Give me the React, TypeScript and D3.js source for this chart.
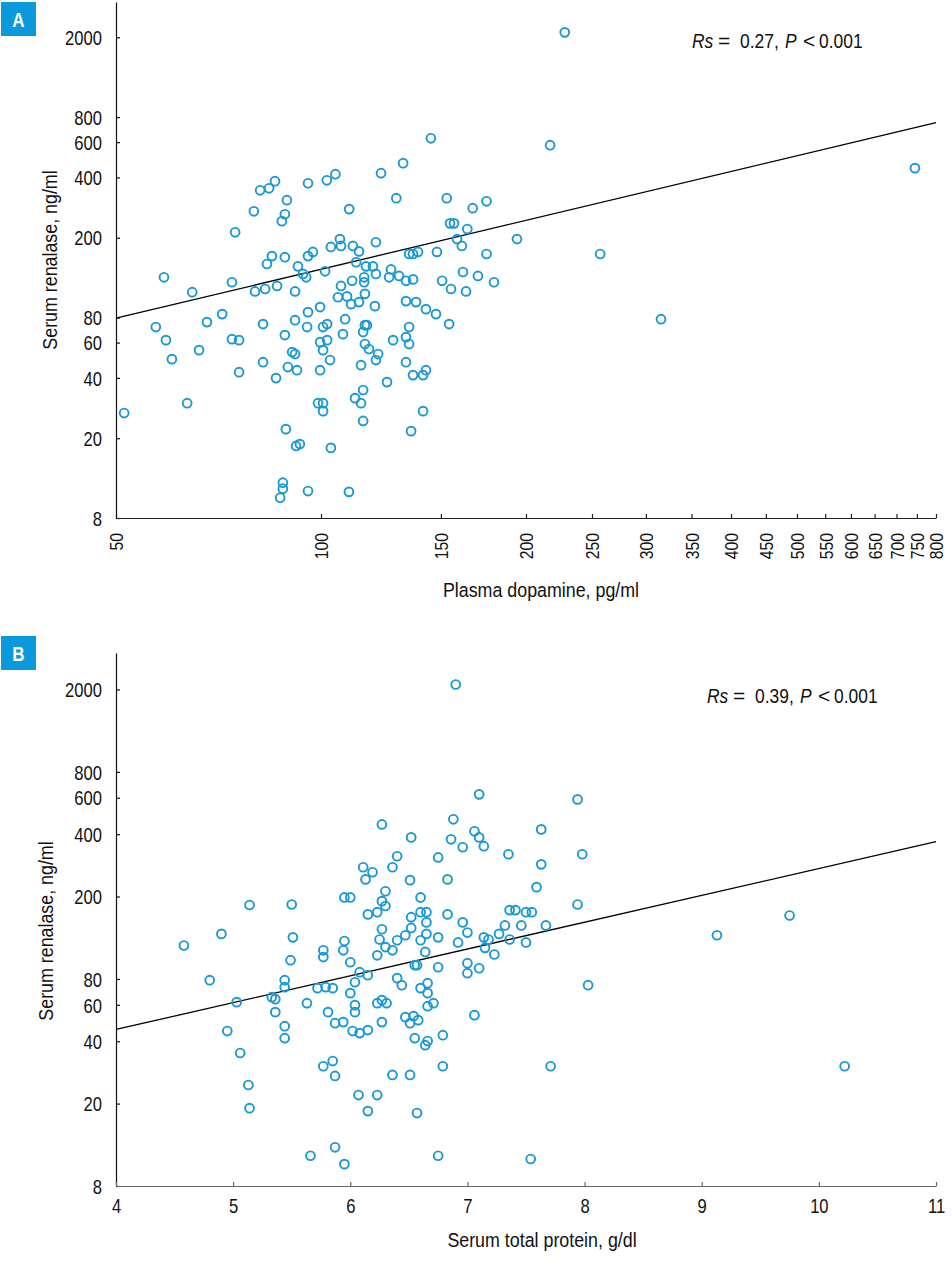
import * as d3 from "d3";
import { useEffect, useRef } from "react";

// Panel A: plasma dopamine (pg/ml) vs serum renalase (ng/ml)
const dopamine = [
  228, 145, 217, 132, 745, 122.5, 105, 102, 95.7, 85.6,
  83.9, 81.4, 129, 153, 89.1, 175, 167, 79.7, 110, 88.5,
  87.6, 154.7, 156.8, 164, 74.8, 158.4, 194, 106.6, 120.4, 161,
  107, 111.4, 113.7, 103.4, 134.7, 136.5, 138.8, 148, 175, 257,
  97.3, 95.7, 84.7, 88.5, 83.3, 92.5, 112.6, 116.4, 119.2, 126.7,
  101.4, 161.6, 170, 120.4, 94.1, 95.1, 115.7, 125.9, 130.2, 136.5,
  133.3, 150.6, 111.1, 115.7, 179.5, 58.8, 74, 107, 86.2, 155.2,
  163.3, 64.7, 80, 82.8, 91.6, 116, 109.2, 105.9, 133.3, 137.9,
  113.7, 110.7, 120, 99.7, 95.7, 142.6, 147.5, 71.6, 315.7, 108.5,
  91.6, 68, 82.2, 102.1, 100.7, 95.4, 116, 116.8, 115.3, 134.7,
  154.2, 57.2, 88.5, 107.7, 133.3, 74, 75.8, 59.2, 99.7, 102.1,
  116, 127.6, 134.7, 117.6, 100.7, 66.2, 90.7, 91.6, 121.3, 60.4,
  82.2, 133.3, 120.4, 103.1, 114.5, 89.4, 92.2, 75.8, 99.7, 142.6,
  141.2, 136.5, 85.9, 125, 115.3, 112.2, 99, 100.7, 100.7, 114.5,
  63.6, 51.4, 141.2, 115.3, 88.8, 135.6, 91.9, 93.1, 103.4, 87.9,
  87.9, 87.1, 95.7, 109.9,
];
const renalaseA = [
  2117, 627, 579, 471, 445, 420, 415, 387, 374, 383,
  353, 345, 315, 315, 308, 304, 281, 271, 278, 262,
  242, 236, 236, 221, 213, 197, 197, 197, 190, 182,
  182, 182, 171, 180, 166, 166, 170, 170, 166, 166,
  170, 162, 162, 160, 148, 144, 151, 144, 144, 139,
  136, 135, 129, 132, 132, 127, 127, 127, 129, 124,
  122, 122, 122, 120, 120, 127, 120, 115, 115, 111,
  108, 107, 108, 111, 108, 105, 102, 101, 96.6, 95.5,
  95.5, 93.3, 91.2, 90.2, 85.1, 88.1, 83.2, 83.2, 78.5, 78.5,
  77.6, 75.9, 74.2, 74.2, 71.7, 71.7, 73.3, 73.3, 67.7, 71.7,
  74.2, 71.7, 65.4, 66.1, 63.9, 62.4, 61.7, 61.7, 60.3, 61.7,
  59, 61.7, 59, 55.7, 55, 55, 53.8, 52.6, 52.6, 49.6,
  47.9, 47.9, 49.1, 49.1, 46.3, 45.3, 43.7, 42.7, 43.7, 43.7,
  41.3, 41.3, 39.9, 38.1, 34.8, 31.7, 29.9, 29.9, 27.3, 29.9,
  29.9, 26.7, 27.3, 24.4, 22.2, 21.7, 18.3, 18.7, 17.9, 12,
  11.2, 10.1, 10.9, 10.8,
];

// Panel B: serum total protein (g/dl) vs serum renalase (ng/ml)
const protein = [
  6.9, 7.1, 7.94, 6.27, 6.88, 7.06, 7.1, 7.14, 7.63, 6.52,
  6.86, 6.96, 6.4, 6.75, 7.35, 7.98, 7.63, 6.11, 6.19, 6.13,
  6.36, 6.83, 6.51, 7.59, 6.3, 6.27, 6.3, 5.95, 6, 6.6,
  7.94, 5.14, 5.5, 6.15, 6.23, 6.6, 6.65, 6.83, 7.36, 7.41,
  7.5, 7.55, 6.52, 6.65, 6.96, 7.32, 7.46, 7.67, 6.52, 6.27,
  7, 4.9, 5.51, 6.47, 6.65, 6.75, 6.25, 6.4, 6.6, 6.92,
  4.58, 5.77, 5.95, 5.94, 6.3, 6.36, 6.64, 6.23, 7.27, 7.18,
  7.14, 7.36, 7.5, 7.15, 7.23, 9.13, 9.75, 5.77, 5.49, 6,
  6.55, 6.57, 6.75, 7, 7, 7.1, 6.08, 6.15, 6.04, 4.8,
  5.44, 5.44, 6.4, 6.44, 5.72, 5.79, 5.85, 6, 6.6, 6.66,
  6.66, 6.66, 6.71, 8.03, 6.47, 6.54, 6.58, 6.51, 7.06, 6.55,
  6.64, 6.66, 6.79, 5.03, 5.33, 5.36, 5.36, 5.63, 6.04, 6.04,
  5.81, 6.23, 6.27, 6.31, 5.87, 5.94, 6.27, 6.02, 6.08, 6.15,
  4.95, 5.44, 5.44, 5.06, 5.77, 5.85, 5.87, 6.36, 6.51, 6.79,
  7.71, 10.22, 5.13, 6.07, 6.23, 5.14, 6.15, 6.57, 5.66, 5.87,
  5.95, 6.75, 7.54,
];
const renalaseB = [
  2113, 623, 589, 446, 472, 413, 386, 350, 422, 386,
  378, 346, 313, 309, 320, 320, 286, 277, 262, 242,
  277, 242, 240, 222, 212, 190, 180, 198, 198, 198,
  183, 182, 183, 164, 168, 168, 168, 164, 172, 172,
  168, 168, 159, 150, 150, 145, 145, 145, 141, 139,
  134, 132, 127, 130, 132, 127, 124, 123, 123, 120,
  116, 110, 122, 110, 114, 110, 108, 104, 132, 124,
  127, 124, 120, 113, 105, 130, 162, 102, 98.5, 96.3,
  93.2, 93.2, 91.1, 95.3, 85.3, 90.1, 86.2, 83.4, 77.1, 78.9,
  78.9, 73, 80.7, 74.6, 72.2, 73, 72.2, 68.3, 72.2, 76.3,
  68.3, 59.1, 61.1, 74.6, 52.3, 52.9, 50.6, 48.9, 53.5, 41.4,
  38.3, 40.1, 42.8, 61.8, 65.3, 63.9, 55.3, 61.1, 59.8, 55.3,
  55.3, 61.1, 63.2, 61.1, 48.9, 49.5, 49.5, 44.8, 43.8, 45.3,
  44.8, 47.3, 41.4, 35.1, 30.3, 32.1, 27.2, 27.5, 27.5, 30.3,
  30.3, 30.3, 24.6, 22, 22, 19, 18.4, 18, 11.2, 12.3,
  10.2, 11.2, 10.8,
];

// fitted lines (end points, data units)
const fitA = [[50, 79.4], [800, 751]];
const fitB = [[4, 45.6], [11, 368]];

const renalaseTicks = [8, 20, 40, 60, 80, 200, 400, 600, 800, 2000];
const dopamineTicks = [50, 100, 150, 200, 250, 300, 350, 400, 450, 500, 550, 600, 650, 700, 750, 800];
const proteinTicks = [4, 5, 6, 7, 8, 9, 10, 11];

// no condensed face installed: squeeze Liberation Sans horizontally
const FONT = "'Liberation Sans', Arial, sans-serif";
const TICK_SQ = 0.83;
const TITLE_SQ = 0.87;
const BLUE = "#1a98d6";

type Panel = {
  letter: string;
  boxY: number;
  xs: number[];
  ys: number[];
  fit: number[][];
  x: any;
  y: any;
  xTicks: number[];
  rotateX: boolean;
  xAxisColor: string;
  xTitle: string;
  xTitlePos: [number, number];
  yTitlePos: [number, number];
  stat: string;
  statPos: [number, number];
};

function drawPanel(svg: d3.Selection<SVGSVGElement, unknown, null, undefined>, p: Panel) {
  const g = svg.append("g");
  const [x0] = p.x.range();
  const [y0] = p.y.range();

  // y axis
  const yAxis = g
    .append("g")
    .attr("transform", `translate(${x0},0)`)
    .call(d3.axisLeft(p.y).tickValues(renalaseTicks).tickSize(-4).tickSizeOuter(0).tickFormat(d3.format("d")));
  yAxis.attr("font-family", FONT).attr("font-size", 20);
  yAxis.selectAll("path, line").attr("stroke", "#111").attr("stroke-width", 1.2);
  yAxis
    .selectAll("text")
    .attr("fill", "#111")
    .attr("x", -14 / TICK_SQ)
    .attr("dy", "0.36em")
    .attr("transform", `scale(${TICK_SQ},1)`);

  // x axis
  const xAxis = g
    .append("g")
    .attr("transform", `translate(0,${y0})`)
    .call(d3.axisBottom(p.x).tickValues(p.xTicks).tickSize(-4).tickSizeOuter(0).tickFormat(d3.format("d")));
  xAxis.attr("font-family", FONT).attr("font-size", p.rotateX ? 19 : 20);
  xAxis.selectAll("path, line").attr("stroke", p.xAxisColor).attr("stroke-width", 1.2);
  if (p.rotateX) {
    xAxis
      .selectAll("text")
      .attr("fill", "#111")
      .attr("transform", `rotate(-90) scale(${TICK_SQ},1)`)
      .attr("x", -15 / TICK_SQ)
      .attr("y", 0)
      .attr("dy", "0.36em")
      .style("text-anchor", "end");
  } else {
    xAxis
      .selectAll("text")
      .attr("fill", "#111")
      .attr("y", 13)
      .attr("dy", "0.71em")
      .attr("transform", `scale(${TICK_SQ},1)`);
  }

  // titles
  g.append("text")
    .attr("transform", `translate(${p.xTitlePos[0]},${p.xTitlePos[1]}) scale(${TITLE_SQ},1)`)
    .attr("text-anchor", "middle")
    .attr("font-family", FONT)
    .attr("font-size", 20.5)
    .attr("fill", "#111")
    .text(p.xTitle);

  g.append("text")
    .attr("transform", `translate(${p.yTitlePos[0]},${p.yTitlePos[1]}) rotate(-90) scale(${TITLE_SQ},1)`)
    .attr("text-anchor", "middle")
    .attr("font-family", FONT)
    .attr("font-size", 20.5)
    .attr("fill", "#111")
    .text("Serum renalase, ng/ml");

  // regression line
  const line = d3
    .line<number[]>()
    .x((d) => p.x(d[0]))
    .y((d) => p.y(d[1]));
  g.append("path").attr("d", line(p.fit)).attr("fill", "none").attr("stroke", "#000").attr("stroke-width", 1.3);

  // points
  g.selectAll("circle.pt")
    .data(p.xs.map((v, i) => [v, p.ys[i]]))
    .join("circle")
    .attr("class", "pt")
    .attr("cx", (d) => p.x(d[0]))
    .attr("cy", (d) => p.y(d[1]))
    .attr("r", 4.4)
    .attr("fill", "none")
    .attr("stroke", BLUE)
    .attr("stroke-width", 1.9);

  // statistic: [text, offset, italic, squeeze]
  const [sx, sy] = p.statPos;
  const parts: [string, number, boolean, number][] = [
    ["Rs", 0, true, TICK_SQ],
    ["=", 26, false, 1],
    [p.stat + ",", 48, false, TICK_SQ],
    ["P", 93, true, TICK_SQ],
    ["<", 111, false, 1],
    ["0.001", 127, false, TICK_SQ],
  ];
  parts.forEach(([t, dx, it, sq]) => {
    g.append("text")
      .attr("transform", `translate(${sx + dx},${sy}) scale(${sq},1)`)
      .attr("font-family", FONT)
      .attr("font-size", 21)
      .attr("font-style", it ? "italic" : "normal")
      .attr("fill", "#111")
      .text(t);
  });

  // panel letter
  g.append("rect").attr("x", 1).attr("y", p.boxY).attr("width", 35).attr("height", 34).attr("fill", "#0a99da");
  g.append("text")
    .attr("transform", `translate(18.5,${p.boxY + 25}) scale(0.85,1)`)
    .attr("text-anchor", "middle")
    .attr("font-family", FONT)
    .attr("font-weight", "bold")
    .attr("font-size", 20)
    .attr("fill", "#fff")
    .text(p.letter);
}

export default function App() {
  const ref = useRef<SVGSVGElement>(null);

  useEffect(() => {
    if (!ref.current) return;
    const svg = d3.select(ref.current);
    svg.selectAll("*").remove();

    drawPanel(svg, {
      letter: "A",
      boxY: 2,
      xs: dopamine,
      ys: renalaseA,
      fit: fitA,
      x: d3.scaleLog().domain([50, 800]).range([116, 936]),
      y: d3.scaleLog().domain([8, 3000]).range([518, 2]),
      xTicks: dopamineTicks,
      rotateX: true,
      xAxisColor: "#222",
      xTitle: "Plasma dopamine, pg/ml",
      xTitlePos: [541, 597],
      yTitlePos: [57, 260],
      stat: "0.27",
      statPos: [692, 47.5],
    });

    drawPanel(svg, {
      letter: "B",
      boxY: 636,
      xs: protein,
      ys: renalaseB,
      fit: fitB,
      x: d3.scaleLinear().domain([4, 11]).range([116, 936]),
      y: d3.scaleLog().domain([8, 3000]).range([1186, 653]),
      xTicks: proteinTicks,
      rotateX: false,
      xAxisColor: "#666",
      xTitle: "Serum total protein, g/dl",
      xTitlePos: [542, 1247],
      yTitlePos: [53, 931],
      stat: "0.39",
      statPos: [707, 703],
    });
  }, []);

  return (
    <svg
      ref={ref}
      width={952}
      height={1281}
      style={{ position: "absolute", left: 0, top: 0, background: "#fff", display: "block" }}
    />
  );
}
